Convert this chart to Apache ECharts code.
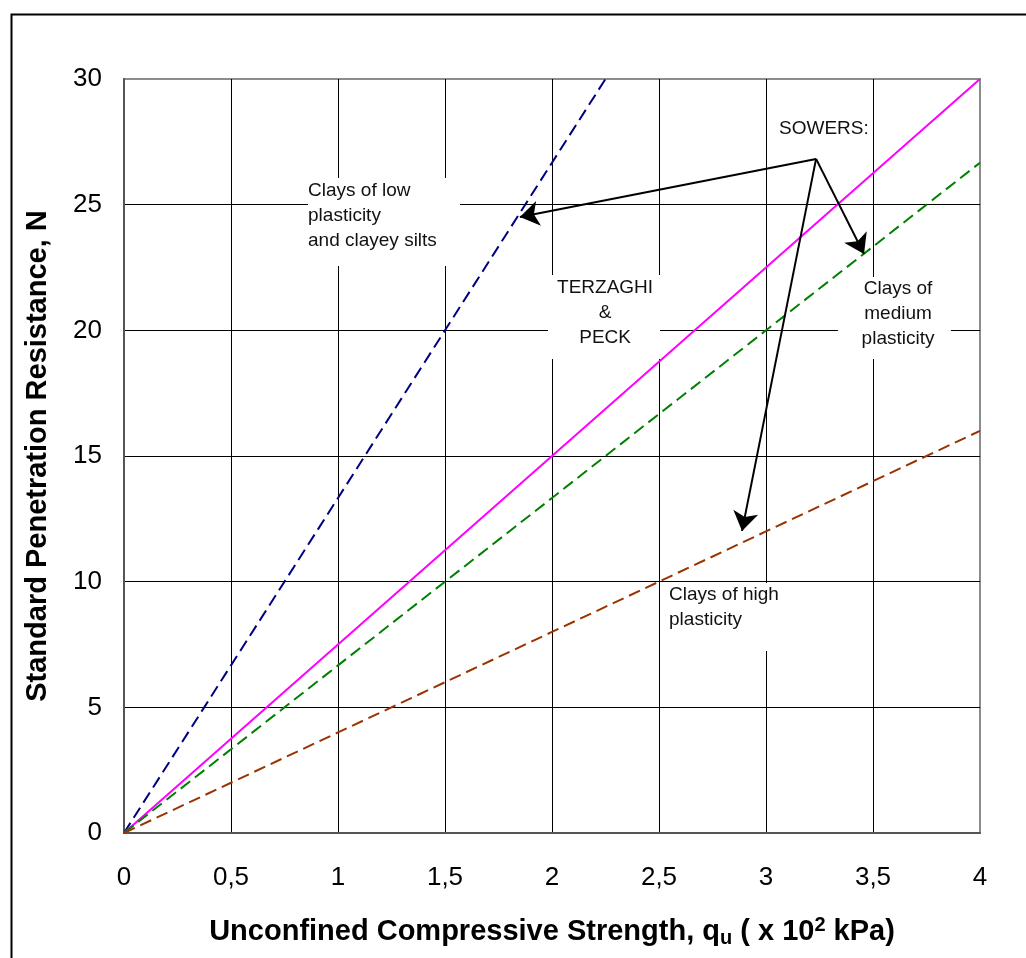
<!DOCTYPE html>
<html>
<head>
<meta charset="utf-8">
<title>SPT N vs unconfined compressive strength</title>
<script src="https://cdn.jsdelivr.net/npm/echarts@6/dist/echarts.min.js"></script>
<style>
  html, body { margin: 0; padding: 0; background: #fff; }
  #chart { width: 1026px; height: 958px; }
</style>
</head>
<body>
<div id="chart"></div>
<script>
// Unconfined compressive strength q_u (x 10^2 kPa) at each reading
const quSteps = [0, 0.5, 1, 1.5, 2, 2.5, 3, 3.5, 4];

// Sowers: clays of low plasticity and clayey silts (runs off the top at N = 30)
const lowQu = [0, 0.5, 1, 1.5, 2, 2.25];
const lowN = [0, 6.67, 13.33, 20, 26.67, 30];

// Terzaghi & Peck
const terzaghiN = [0, 3.75, 7.5, 11.25, 15, 18.75, 22.5, 26.25, 30];

// Sowers: clays of medium plasticity
const mediumN = [0, 3.33, 6.67, 10, 13.33, 16.67, 20, 23.33, 26.67];

// Sowers: clays of high plasticity
const highN = [0, 2, 4, 6, 8, 10, 12, 14, 16];

// Axis tick labels (decimal comma)
const xTickLabels = ['0', '0,5', '1', '1,5', '2', '2,5', '3', '3,5', '4'];
const yTickLabels = ['0', '5', '10', '15', '20', '25', '30'];

// Leader arrows from the "SOWERS:" note: [from, to] in (q_u, N)
const sowersFrom = [3.234, 26.82];
const sowersTo = [[1.850, 24.51], [3.458, 23.04], [2.888, 12.02]];

// Text notes: box corners [x0, yTop, x1, yBottom], text anchor [x, yTop], alignment
const notes = [
  { lines: ['Clays of low', 'plasticity', 'and clayey silts'], box: [0.860, 26.06, 1.570, 22.56], at: [0.860, 26.06], align: 'left' },
  { lines: ['TERZAGHI', '&', 'PECK'], box: [1.981, 22.20, 2.505, 18.86], at: [2.248, 22.20], align: 'center' },
  { lines: ['SOWERS:'], box: [3.028, 28.49, 3.500, 27.45], at: [3.061, 28.52], align: 'left' },
  { lines: ['Clays of', 'medium', 'plasticity'], box: [3.336, 22.12, 3.864, 18.86], at: [3.617, 22.14], align: 'center' },
  { lines: ['Clays of high', 'plasticity'], box: [2.509, 9.947, 3.163, 7.24], at: [2.547, 9.98], align: 'left' }
];

const pairs = (xs, ys) => xs.map((x, i) => [x, ys[i]]);

const FONT = 'Liberation Sans, Arial, Helvetica, sans-serif';

const chart = echarts.init(document.getElementById('chart'), null, { renderer: 'canvas' });

chart.setOption({
  backgroundColor: '#ffffff',
  animation: false,
  textStyle: { fontFamily: FONT },
  graphic: [
    {
      type: 'rect',
      left: 9, top: 12,
      shape: { x: 0, y: 0, width: 1100, height: 1100 },
      style: { fill: null, stroke: '#000', lineWidth: 2 },
      silent: true, z: -10
    }
  ],
  grid: {
    left: 124, top: 79, width: 856, height: 754,
    show: true, borderColor: '#8c8c8c', borderWidth: 2, backgroundColor: 'transparent'
  },
  xAxis: {
    type: 'value', min: 0, max: 4, interval: 0.5,
    name: 'Unconfined Compressive Strength, q{sub|u} ( x 10{sup|2} kPa)',
    nameLocation: 'middle', nameGap: 82,
    nameTextStyle: {
      fontFamily: FONT, fontSize: 29, fontWeight: 'bold', color: '#000',
      rich: {
        sub: { fontFamily: FONT, fontSize: 20, fontWeight: 'bold', color: '#000', padding: [13, 0, 0, 0] },
        sup: { fontFamily: FONT, fontSize: 20, fontWeight: 'bold', color: '#000', padding: [0, 0, 13, 0] }
      }
    },
    axisLine: { show: true, onZero: false, lineStyle: { color: '#555', width: 2 } },
    axisTick: { show: false },
    axisLabel: {
      fontFamily: FONT, fontSize: 26, color: '#000', margin: 32,
      formatter: v => xTickLabels[Math.round(v / 0.5)]
    },
    splitLine: { show: true, showMinLine: false, showMaxLine: false, lineStyle: { color: '#000', width: 1 } }
  },
  yAxis: {
    type: 'value', min: 0, max: 30, interval: 5,
    name: 'Standard Penetration Resistance, N',
    nameLocation: 'middle', nameGap: 72, nameRotate: 90,
    nameTextStyle: { fontFamily: FONT, fontSize: 29, fontWeight: 'bold', color: '#000' },
    axisLine: { show: true, onZero: false, lineStyle: { color: '#555', width: 2 } },
    axisTick: { show: false },
    axisLabel: {
      fontFamily: FONT, fontSize: 26, color: '#000', margin: 22,
      formatter: v => yTickLabels[Math.round(v / 5)]
    },
    splitLine: { show: true, showMinLine: false, showMaxLine: false, lineStyle: { color: '#000', width: 1 } }
  },
  series: [
    {
      // white note boxes sit over the grid, under the curves
      type: 'custom',
      z: 1,
      silent: true,
      data: notes.map((n, i) => [i]),
      renderItem: (params, api) => {
        const n = notes[api.value(0)];
        const p0 = api.coord([n.box[0], n.box[1]]);
        const p1 = api.coord([n.box[2], n.box[3]]);
        const t = api.coord(n.at);
        return {
          type: 'group',
          children: [
            {
              type: 'rect',
              shape: { x: p0[0], y: p0[1], width: p1[0] - p0[0], height: p1[1] - p0[1] },
              style: { fill: '#fff', stroke: null }
            },
            {
              type: 'text',
              x: t[0], y: t[1],
              style: {
                text: n.lines.join('\n'),
                font: '19px ' + FONT,
                fill: '#111',
                lineHeight: 25,
                align: n.align,
                verticalAlign: 'top'
              }
            }
          ]
        };
      }
    },
    {
      name: 'Clays of low plasticity and clayey silts',
      type: 'line', z: 3, symbol: 'none',
      data: pairs(lowQu, lowN),
      lineStyle: { color: '#000080', width: 2, type: [12, 6] }
    },
    {
      name: 'Terzaghi & Peck',
      type: 'line', z: 3, symbol: 'none',
      data: pairs(quSteps, terzaghiN),
      lineStyle: { color: '#ff00ff', width: 2, type: 'solid' }
    },
    {
      name: 'Clays of medium plasticity',
      type: 'line', z: 3, symbol: 'none',
      data: pairs(quSteps, mediumN),
      lineStyle: { color: '#008000', width: 2, type: [12, 6] }
    },
    {
      name: 'Clays of high plasticity',
      type: 'line', z: 3, symbol: 'none',
      data: pairs(quSteps, highN),
      lineStyle: { color: '#993300', width: 2, type: [12, 6] }
    },
    {
      name: 'Sowers arrows',
      type: 'lines',
      coordinateSystem: 'cartesian2d',
      z: 4,
      silent: true,
      symbol: ['none', 'arrow'],
      symbolSize: [16, 19],
      lineStyle: { color: '#000', width: 2, opacity: 1, curveness: 0 },
      data: sowersTo.map(to => ({ coords: [sowersFrom, to] }))
    }
  ]
});
</script>
</body>
</html>
